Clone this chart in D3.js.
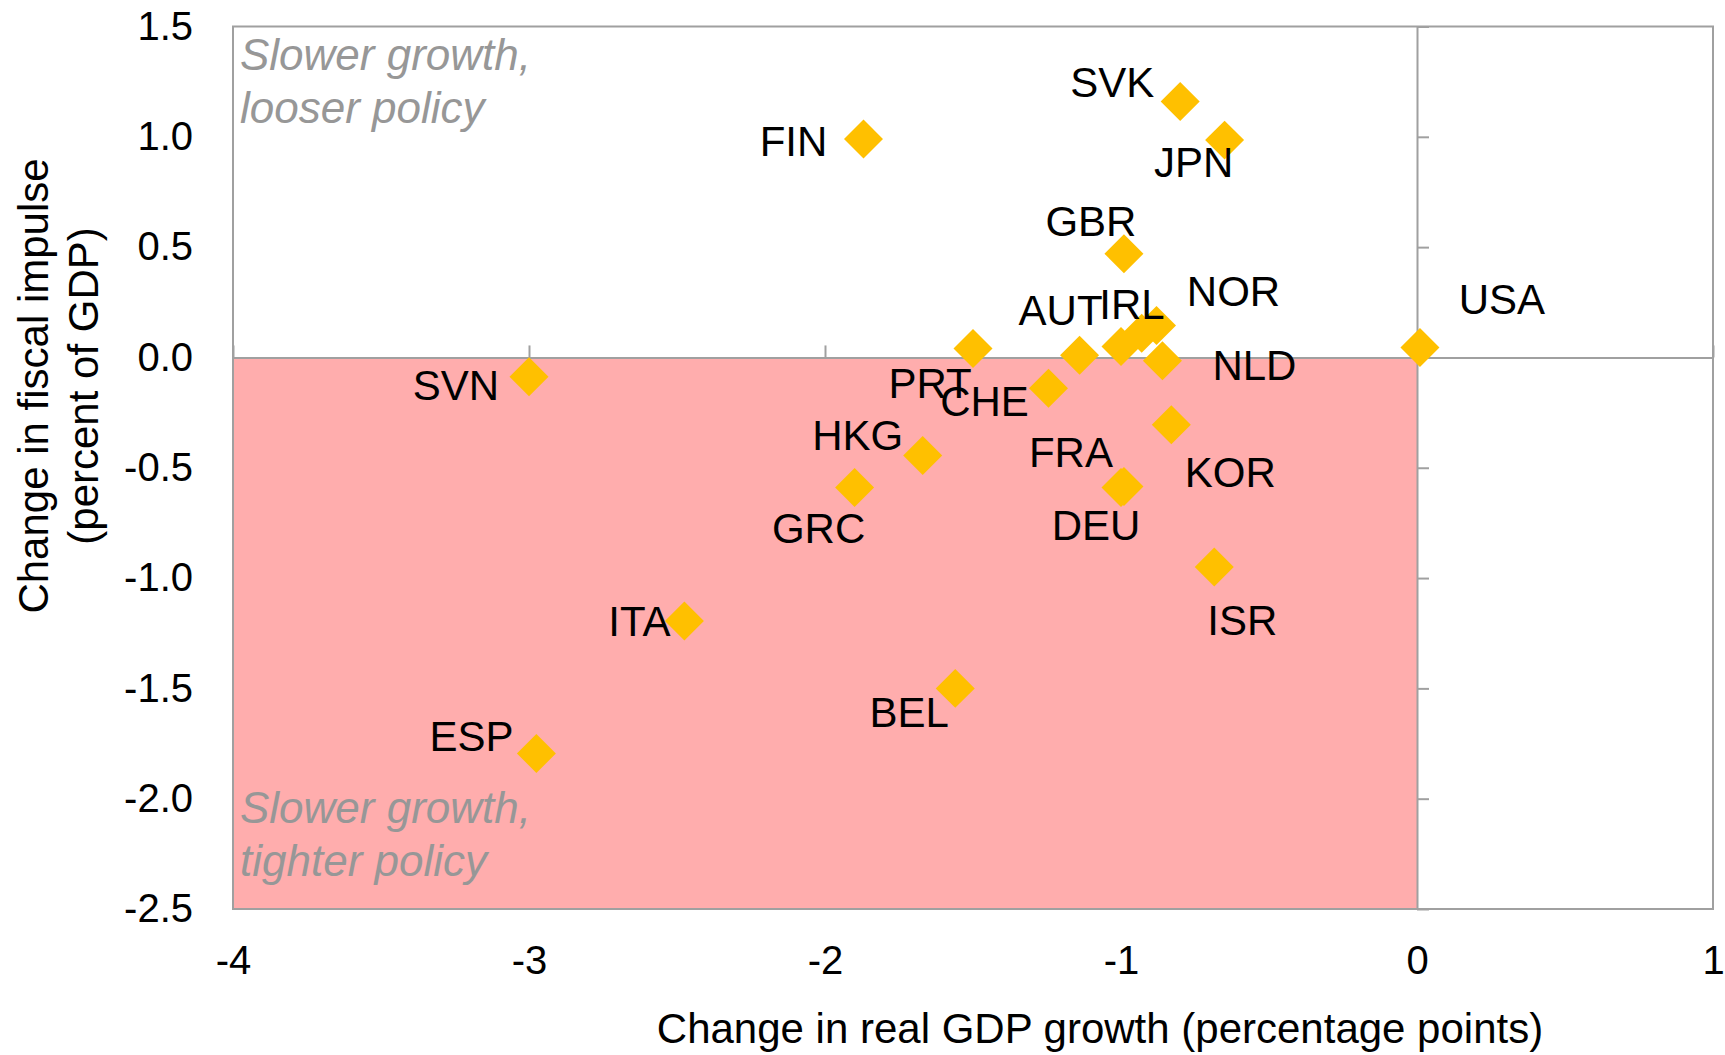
<!DOCTYPE html>
<html>
<head>
<meta charset="utf-8">
<script src="https://cdn.jsdelivr.net/npm/d3@7"></script>
<style>
  body { margin: 0; background: #fff; }
  text { font-family: "Liberation Sans", Arial, sans-serif; }
</style>
</head>
<body>
<script>
// Data
const countries = ["SVK", "JPN", "FIN", "GBR", "USA", "PRT", "AUT", "IRL", "", "NOR", "NLD",
                   "CHE", "KOR", "SVN", "HKG", "GRC", "FRA", "DEU", "ISR", "ITA", "BEL", "ESP"];
const gdpChange = [-0.80, -0.65, -1.87, -0.99, 0.01, -1.50, -1.14, -1.00, -0.93, -0.88, -0.86,
                   -1.245, -0.83, -3.00, -1.67, -1.90, -0.99, -1.00, -0.685, -2.475, -1.56, -2.975];
const fiscalChange = [1.16, 0.985, 0.99, 0.47, 0.045, 0.04, 0.01, 0.05, 0.11, 0.145, -0.015,
                      -0.14, -0.305, -0.087, -0.445, -0.59, -0.585, -0.59, -0.95, -1.195, -1.50, -1.795];

const xTicks = [-4, -3, -2, -1, 0, 1];
const xTickLabels = ["-4", "-3", "-2", "-1", "0", "1"];
const yTicks = [1.5, 1.0, 0.5, 0.0, -0.5, -1.0, -1.5, -2.0, -2.5];
const yTickLabels = ["1.5", "1.0", "0.5", "0.0", "-0.5", "-1.0", "-1.5", "-2.0", "-2.5"];

// label placement relative to each marker (px)
const labelOffset = {
  SVK: [-68, -5], JPN: [-31, 37], FIN: [-70, 17], GBR: [-33, -18], USA: [82, -34],
  PRT: [-43, 49], AUT: [-19, -30], IRL: [11, -27], NOR: [77, -19], NLD: [92, 19],
  CHE: [-64, 28], KOR: [59, 62], SVN: [-73, 23], HKG: [-65, -6], GRC: [-36, 55],
  FRA: [-53, -20], DEU: [-25, 52], ISR: [28, 68], ITA: [-45, 15], BEL: [-46, 39], ESP: [-65, -2]
};

const data = countries.map((c, i) => ({ country: c, x: gdpChange[i], y: fiscalChange[i] }));

const width = 1725, height = 1055;
const margin = { left: 233, right: 1713, top: 26.5, bottom: 909 };
const grey = "#a0a0a0";

const svg = d3.select("body").append("svg")
  .attr("width", width)
  .attr("height", height);

const x = d3.scaleLinear().domain([-4, 1]).range([margin.left, margin.right]);
const y = d3.scaleLinear().domain([-2.5, 1.5]).range([margin.bottom, margin.top]);

// shaded quadrant: slower growth, tighter policy
svg.append("rect")
  .attr("x", x(-4)).attr("y", y(0))
  .attr("width", x(0) - x(-4)).attr("height", y(-2.5) - y(0))
  .attr("fill", "#ffadad");

// plot border
svg.append("rect")
  .attr("x", margin.left).attr("y", margin.top)
  .attr("width", margin.right - margin.left).attr("height", margin.bottom - margin.top)
  .attr("fill", "none").attr("stroke", grey).attr("stroke-width", 2);

// axes crossing at zero, tick marks only
const xZero = svg.append("g")
  .attr("transform", `translate(0,${y(0)})`)
  .call(d3.axisTop(x).tickValues(xTicks).tickSize(12).tickSizeOuter(0).tickFormat(""));
const yZero = svg.append("g")
  .attr("transform", `translate(${x(0)},0)`)
  .call(d3.axisRight(y).tickValues(yTicks).tickSize(12).tickSizeOuter(0).tickFormat(""));
[xZero, yZero].forEach(g => {
  g.selectAll("path, line").attr("stroke", grey).attr("stroke-width", 2);
});

// tick labels along the bottom and left edges
const xLab = svg.append("g")
  .attr("transform", `translate(0,${margin.bottom})`)
  .call(d3.axisBottom(x).tickValues(xTicks).tickSize(0).tickPadding(37)
    .tickFormat((d, i) => xTickLabels[i]));
const yLab = svg.append("g")
  .attr("transform", `translate(${margin.left},0)`)
  .call(d3.axisLeft(y).tickValues(yTicks).tickSize(0).tickPadding(40)
    .tickFormat((d, i) => yTickLabels[i]));
[xLab, yLab].forEach(g => {
  g.select(".domain").remove();
  g.selectAll("text").attr("font-size", 40).attr("fill", "#000")
    .attr("font-family", "'Liberation Sans', Arial, sans-serif");
});

// quadrant notes
const note = (lines, x0, y0) => {
  const t = svg.append("text")
    .attr("x", x0).attr("y", y0)
    .attr("font-size", 44).attr("font-style", "italic").attr("fill", "#979797");
  lines.forEach((l, i) => t.append("tspan").attr("x", x0).attr("dy", i ? 53 : 0).text(l));
};
note(["Slower growth,", "looser policy"], 240, 70);
note(["Slower growth,", "tighter policy"], 240, 823);

// markers
const diamond = d3.symbol().type(d3.symbolSquare).size(760);
svg.append("g").selectAll("path")
  .data(data)
  .join("path")
  .attr("d", diamond)
  .attr("transform", d => `translate(${x(d.x)},${y(d.y)}) rotate(45)`)
  .attr("fill", "#ffc000");

// country labels
svg.append("g").selectAll("text")
  .data(data.filter(d => d.country))
  .join("text")
  .attr("x", d => x(d.x) + labelOffset[d.country][0])
  .attr("y", d => y(d.y) + labelOffset[d.country][1])
  .attr("text-anchor", "middle")
  .attr("font-size", 42)
  .attr("fill", "#000")
  .text(d => d.country);

// axis titles
svg.append("text")
  .attr("x", 1100).attr("y", 1043)
  .attr("text-anchor", "middle")
  .attr("font-size", 42)
  .text("Change in real GDP growth (percentage points)");

const yTitle = svg.append("text")
  .attr("transform", "translate(48,386) rotate(-90)")
  .attr("text-anchor", "middle")
  .attr("font-size", 42);
yTitle.append("tspan").attr("x", 0).attr("dy", 0).text("Change in fiscal impulse");
yTitle.append("tspan").attr("x", 0).attr("dy", 50).text("(percent of GDP)");
</script>
</body>
</html>
